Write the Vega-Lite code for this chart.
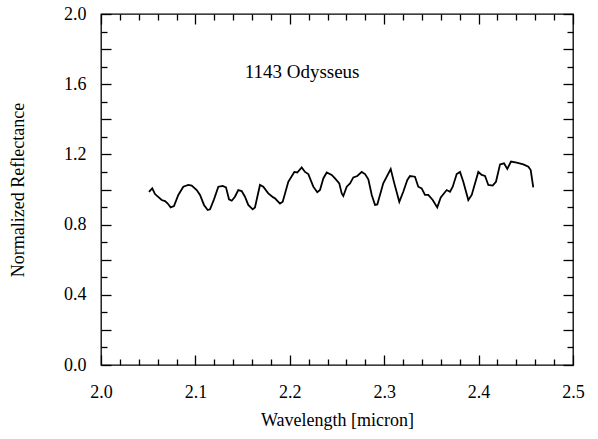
{
  "$schema": "https://vega.github.io/schema/vega-lite/v6.json",
  "width": 472,
  "height": 351,
  "autosize": {"type": "none"},
  "padding": {"left": 101, "top": 14, "right": 25, "bottom": 74},
  "background": "white",
  "config": {
    "view": {"stroke": "black", "strokeWidth": 1.3},
    "font": "Liberation Serif",
    "axis": {"grid": false, "domain": false, "tickColor": "black", "labelColor": "black", "titleColor": "black", "labelFont": "Liberation Serif", "titleFont": "Liberation Serif", "labelFontSize": 18, "titleFontSize": 18, "titleFontWeight": "normal", "tickWidth": 1.3}
  },
  "data": {"values": [
    {"w": 2.0508, "r": 0.987}, {"w": 2.0543, "r": 1.007}, {"w": 2.0572, "r": 0.974}, {"w": 2.0643, "r": 0.94},
    {"w": 2.0678, "r": 0.934}, {"w": 2.0707, "r": 0.92}, {"w": 2.0738, "r": 0.898}, {"w": 2.0773, "r": 0.906},
    {"w": 2.0819, "r": 0.969}, {"w": 2.0872, "r": 1.016}, {"w": 2.0925, "r": 1.026}, {"w": 2.0961, "r": 1.022},
    {"w": 2.1014, "r": 0.997}, {"w": 2.1049, "r": 0.969}, {"w": 2.1091, "r": 0.912}, {"w": 2.113, "r": 0.883},
    {"w": 2.1155, "r": 0.887}, {"w": 2.1197, "r": 0.944}, {"w": 2.1243, "r": 1.016}, {"w": 2.1289, "r": 1.02},
    {"w": 2.1324, "r": 1.012}, {"w": 2.1356, "r": 0.944}, {"w": 2.1385, "r": 0.936}, {"w": 2.1419, "r": 0.959},
    {"w": 2.1454, "r": 0.997}, {"w": 2.149, "r": 0.991}, {"w": 2.1525, "r": 0.959}, {"w": 2.156, "r": 0.912},
    {"w": 2.1607, "r": 0.887}, {"w": 2.1631, "r": 0.898}, {"w": 2.1684, "r": 1.026}, {"w": 2.1719, "r": 1.016},
    {"w": 2.1772, "r": 0.978}, {"w": 2.1825, "r": 0.955}, {"w": 2.1843, "r": 0.95}, {"w": 2.1896, "r": 0.92},
    {"w": 2.1925, "r": 0.93}, {"w": 2.1984, "r": 1.044}, {"w": 2.2048, "r": 1.1}, {"w": 2.2079, "r": 1.097},
    {"w": 2.2126, "r": 1.126}, {"w": 2.2161, "r": 1.1}, {"w": 2.2196, "r": 1.088}, {"w": 2.2249, "r": 1.016},
    {"w": 2.2291, "r": 0.984}, {"w": 2.232, "r": 0.997}, {"w": 2.2355, "r": 1.063}, {"w": 2.2391, "r": 1.097},
    {"w": 2.2444, "r": 1.083}, {"w": 2.2479, "r": 1.063}, {"w": 2.2524, "r": 1.035}, {"w": 2.255, "r": 0.978},
    {"w": 2.2567, "r": 0.963}, {"w": 2.2603, "r": 1.016}, {"w": 2.2638, "r": 1.035}, {"w": 2.2673, "r": 1.069},
    {"w": 2.2715, "r": 1.077}, {"w": 2.2762, "r": 1.1}, {"w": 2.2797, "r": 1.088}, {"w": 2.2832, "r": 1.058},
    {"w": 2.2868, "r": 0.969}, {"w": 2.2903, "r": 0.912}, {"w": 2.2927, "r": 0.915}, {"w": 2.299, "r": 1.035},
    {"w": 2.3069, "r": 1.117}, {"w": 2.3107, "r": 1.035}, {"w": 2.316, "r": 0.93}, {"w": 2.3202, "r": 0.987},
    {"w": 2.3245, "r": 1.054}, {"w": 2.3273, "r": 1.077}, {"w": 2.3326, "r": 1.073}, {"w": 2.3361, "r": 1.016},
    {"w": 2.3397, "r": 1.006}, {"w": 2.3432, "r": 0.969}, {"w": 2.3467, "r": 0.969}, {"w": 2.3514, "r": 0.94},
    {"w": 2.3562, "r": 0.898}, {"w": 2.3599, "r": 0.955}, {"w": 2.3662, "r": 0.997}, {"w": 2.3697, "r": 0.987},
    {"w": 2.3726, "r": 1.016}, {"w": 2.3768, "r": 1.088}, {"w": 2.3803, "r": 1.1}, {"w": 2.3838, "r": 1.044},
    {"w": 2.3891, "r": 0.94}, {"w": 2.3927, "r": 0.969}, {"w": 2.3997, "r": 1.1}, {"w": 2.4033, "r": 1.083},
    {"w": 2.4068, "r": 1.077}, {"w": 2.4103, "r": 1.026}, {"w": 2.4149, "r": 1.022}, {"w": 2.4184, "r": 1.044},
    {"w": 2.4227, "r": 1.143}, {"w": 2.4269, "r": 1.149}, {"w": 2.4304, "r": 1.117}, {"w": 2.4343, "r": 1.159},
    {"w": 2.4404, "r": 1.153}, {"w": 2.4474, "r": 1.143}, {"w": 2.4527, "r": 1.13}, {"w": 2.4552, "r": 1.111},
    {"w": 2.4579, "r": 1.012}
  ]},
  "resolve": {"axis": {"x": "independent", "y": "independent"}},
  "layer": [
    {
      "mark": {"type": "line", "color": "black", "strokeWidth": 1.8},
      "encoding": {
        "x": {"field": "w", "type": "quantitative", "scale": {"domain": [2.0, 2.5], "nice": false, "zero": false},
          "axis": {"orient": "bottom", "title": "Wavelength [micron]", "values": [2.0, 2.1, 2.2, 2.3, 2.4, 2.5], "format": ".1f", "tickSize": -10, "labelPadding": 28, "titlePadding": 10, "labelFlush": false}},
        "y": {"field": "r", "type": "quantitative", "scale": {"domain": [0, 2.0], "nice": false},
          "axis": {"orient": "left", "title": "Normalized Reflectance", "values": [0, 0.4, 0.8, 1.2, 1.6, 2.0], "format": ".1f", "tickSize": -10, "labelPadding": 25, "titlePadding": 36, "labelFlush": false}}
      }
    },
    {
      "mark": {"type": "line", "opacity": 0},
      "encoding": {
        "x": {"field": "w", "type": "quantitative", "axis": {"orient": "top", "title": null, "labels": false, "values": [2.0, 2.1, 2.2, 2.3, 2.4, 2.5], "tickSize": -10}},
        "y": {"field": "r", "type": "quantitative", "axis": {"orient": "right", "title": null, "labels": false, "values": [0, 0.2, 0.4, 0.6, 0.8, 1.0, 1.2, 1.4, 1.6, 1.8, 2.0], "tickSize": -10}}
      }
    },
    {
      "mark": {"type": "line", "opacity": 0},
      "encoding": {
        "x": {"field": "w", "type": "quantitative", "axis": {"orient": "bottom", "title": null, "labels": false, "values": [2.02, 2.04, 2.06, 2.08, 2.12, 2.14, 2.16, 2.18, 2.22, 2.24, 2.26, 2.28, 2.32, 2.34, 2.36, 2.38, 2.42, 2.44, 2.46, 2.48], "tickSize": -6}},
        "y": {"field": "r", "type": "quantitative", "axis": {"orient": "left", "title": null, "labels": false, "values": [0.2, 0.6, 1.0, 1.4, 1.8], "tickSize": -10}}
      }
    },
    {
      "mark": {"type": "line", "opacity": 0},
      "encoding": {
        "x": {"field": "w", "type": "quantitative", "axis": {"orient": "top", "title": null, "labels": false, "values": [2.02, 2.04, 2.06, 2.08, 2.12, 2.14, 2.16, 2.18, 2.22, 2.24, 2.26, 2.28, 2.32, 2.34, 2.36, 2.38, 2.42, 2.44, 2.46, 2.48], "tickSize": -6}},
        "y": {"field": "r", "type": "quantitative", "axis": {"orient": "right", "title": null, "labels": false, "values": [0.1, 0.3, 0.5, 0.7, 0.9, 1.1, 1.3, 1.5, 1.7, 1.9], "tickSize": -6}}
      }
    },
    {
      "mark": {"type": "line", "opacity": 0},
      "encoding": {
        "x": {"field": "w", "type": "quantitative", "axis": null},
        "y": {"field": "r", "type": "quantitative", "axis": {"orient": "left", "title": null, "labels": false, "values": [0.1, 0.3, 0.5, 0.7, 0.9, 1.1, 1.3, 1.5, 1.7, 1.9], "tickSize": -6}}
      }
    },
    {
      "data": {"values": [{"label": "1143 Odysseus", "w": 2.213, "r": 1.67}]},
      "mark": {"type": "text", "font": "Liberation Serif", "fontSize": 19, "color": "black"},
      "encoding": {
        "x": {"field": "w", "type": "quantitative", "axis": null},
        "y": {"field": "r", "type": "quantitative", "axis": null},
        "text": {"field": "label"}
      }
    }
  ]
}
